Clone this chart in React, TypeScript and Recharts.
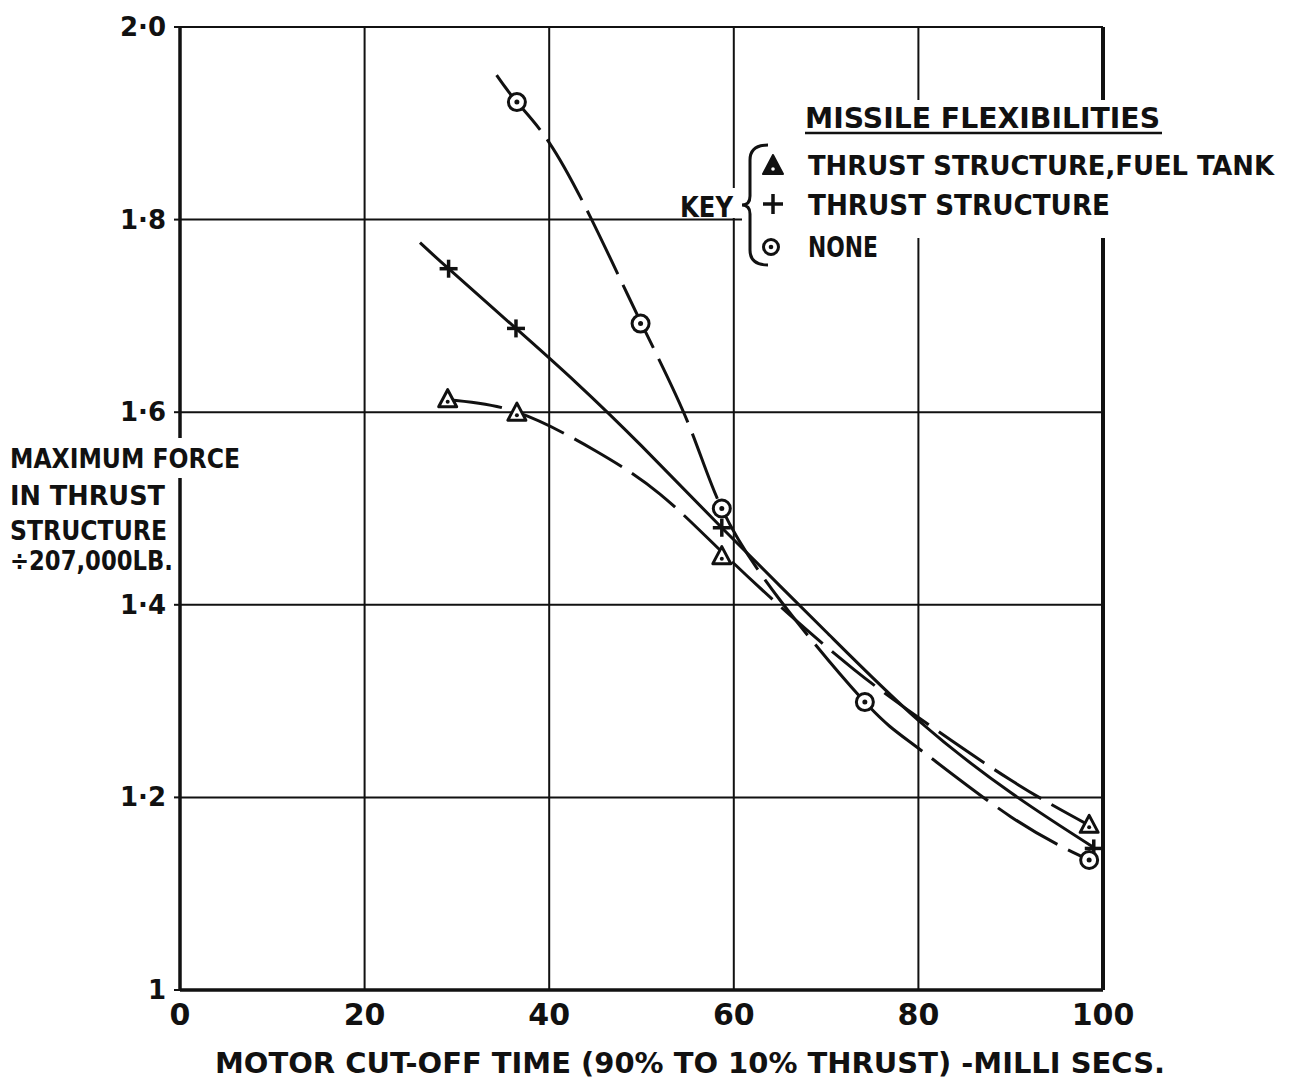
import React from 'react';
import {
  ComposedChart,
  Line,
  Scatter,
  XAxis,
  YAxis,
  CartesianGrid,
  ReferenceLine,
} from 'recharts';

// values
const xTicks = [0, 20, 40, 60, 80, 100];
const yTicks = [1, 1.2, 1.4, 1.6, 1.8, 2];

// plotted points (markers)
const triangleX = [29, 36.5, 58.7, 98.5];
const triangleY = [1.613, 1.599, 1.45, 1.171];
const plusX = [29.1, 36.4, 58.7, 99];
const plusY = [1.749, 1.687, 1.48, 1.147];
const circleX = [36.5, 49.9, 58.7, 74.2, 98.5];
const circleY = [1.922, 1.692, 1.5, 1.299, 1.135];

// faired curves traced through the points
const triangleCurveX = [29, 36.5, 45, 52, 58.7, 66, 73, 80, 90, 98.5];
const triangleCurveY = [1.613, 1.6, 1.56, 1.515, 1.455, 1.39, 1.333, 1.283, 1.218, 1.171];
const plusCurveX = [26, 29.1, 36.4, 43, 50, 58.7, 70, 80, 90, 99];
const plusCurveY = [1.776, 1.749, 1.687, 1.63, 1.565, 1.48, 1.372, 1.28, 1.205, 1.148];
const circleCurveX = [34.3, 36.5, 40, 44.6, 50, 55, 58.7, 65, 74.2, 80, 90, 98.5];
const circleCurveY = [1.95, 1.922, 1.88, 1.8, 1.692, 1.59, 1.5, 1.405, 1.299, 1.251, 1.18, 1.135];

const zip = (xs: number[], ys: number[]) => xs.map((x, i) => ({ x, y: ys[i] }));

const FONT = '"DejaVu Sans", sans-serif';
const NARROW = '"DejaVu Sans Condensed", "DejaVu Sans", sans-serif';
const INK = '#111';

const YTick = ({ x, y, payload }: any) => {
  const v = payload.value as number;
  const label = v === 1 ? '1' : v.toFixed(1).replace('.', '\u00b7');
  return (
    <text x={x} y={y} dy={9} textAnchor="end" fontFamily={FONT} fontWeight="bold" fontSize={26} fill={INK}>
      {label}
    </text>
  );
};

const XTick = ({ x, y, payload }: any) => (
  <text x={x} y={y} dy={35} textAnchor="middle" fontFamily={FONT} fontWeight="bold" fontSize={30} fill={INK}>
    {payload.value}
  </text>
);

const TriangleMark = ({ cx, cy }: any) => (
  <g>
    <polygon
      points={`${cx},${cy - 10} ${cx - 9},${cy + 7} ${cx + 9},${cy + 7}`}
      fill="#fff"
      stroke={INK}
      strokeWidth={3}
      strokeLinejoin="round"
    />
    <circle cx={cx} cy={cy + 2} r={2} fill={INK} />
  </g>
);

const PlusMark = ({ cx, cy }: any) => (
  <g stroke={INK} strokeWidth={3.5}>
    <line x1={cx - 9} y1={cy} x2={cx + 9} y2={cy} />
    <line x1={cx} y1={cy - 9} x2={cx} y2={cy + 9} />
  </g>
);

const CircleMark = ({ cx, cy }: any) => (
  <g>
    <circle cx={cx} cy={cy} r={8.5} fill="#fff" stroke={INK} strokeWidth={3} />
    <circle cx={cx} cy={cy} r={2.5} fill={INK} />
  </g>
);

const W = 1289;
const H = 1076;

export default function App() {
  const textProps = { fontFamily: FONT, fontWeight: 'bold' as const, fill: INK, lengthAdjust: 'spacingAndGlyphs' as const };
  return (
    <div style={{ position: 'relative', width: W, height: H, background: '#fff' }}>
      <ComposedChart width={W} height={H} margin={{ top: 19, right: 194, bottom: 54, left: 112 }}>
        <CartesianGrid stroke={INK} strokeWidth={2} horizontalValues={yTicks} verticalValues={xTicks} />
        <XAxis
          type="number"
          dataKey="x"
          domain={[0, 100]}
          ticks={xTicks}
          tick={<XTick />}
          tickLine={false}
          tickSize={0}
          tickMargin={0}
          height={40}
          axisLine={{ stroke: INK, strokeWidth: 3.5 }}
          allowDataOverflow
        />
        <YAxis
          type="number"
          domain={[1, 2]}
          ticks={yTicks}
          tick={<YTick />}
          tickLine={{ stroke: INK, strokeWidth: 2 }}
          tickSize={6}
          tickMargin={8}
          width={60}
          axisLine={{ stroke: INK, strokeWidth: 3.5 }}
          allowDataOverflow
        />
        <ReferenceLine x={100} stroke={INK} strokeWidth={4} />
        <Line
          data={zip(triangleCurveX, triangleCurveY)}
          dataKey="y"
          type="natural"
          stroke={INK}
          strokeWidth={3}
          strokeDasharray="55 12"
          dot={false}
          activeDot={false}
          isAnimationActive={false}
        />
        <Line
          data={zip(plusCurveX, plusCurveY)}
          dataKey="y"
          type="natural"
          stroke={INK}
          strokeWidth={3}
          dot={false}
          activeDot={false}
          isAnimationActive={false}
        />
        <Line
          data={zip(circleCurveX, circleCurveY)}
          dataKey="y"
          type="natural"
          stroke={INK}
          strokeWidth={3}
          strokeDasharray="70 12"
          dot={false}
          activeDot={false}
          isAnimationActive={false}
        />
        <Scatter data={zip(triangleX, triangleY)} dataKey="y" shape={<TriangleMark />} isAnimationActive={false} />
        <Scatter data={zip(plusX, plusY)} dataKey="y" shape={<PlusMark />} isAnimationActive={false} />
        <Scatter data={zip(circleX, circleY)} dataKey="y" shape={<CircleMark />} isAnimationActive={false} />
      </ComposedChart>

      <svg width={W} height={H} style={{ position: 'absolute', left: 0, top: 0, pointerEvents: 'none' }}>
        {/* key block, masking the grid behind it */}
        <rect x={734} y={92} width={438} height={138} fill="#fff" />
        <rect x={680} y={180} width={54} height={30} fill="#fff" />
        <text x={797} y={120} fontSize={28} textLength={355} {...textProps}>MISSILE FLEXIBILITIES</text>
        <line x1={797} y1={125} x2={1154} y2={125} stroke={INK} strokeWidth={2.5} />
        <text x={800} y={167} fontSize={27} textLength={466} {...textProps} fontFamily={NARROW}>
          THRUST STRUCTURE,FUEL TANK
        </text>
        <text x={800} y={207} fontSize={28} textLength={302} {...textProps}>THRUST STRUCTURE</text>
        <text x={800} y={249} fontSize={28} textLength={70} {...textProps}>NONE</text>
        <text x={672} y={209} fontSize={28} textLength={53} {...textProps}>KEY</text>
        <path
          d="M 760 137 Q 742 137 742 152 L 742 188 Q 742 197 734 197 Q 742 197 742 206 L 742 242 Q 742 257 760 257"
          fill="none"
          stroke={INK}
          strokeWidth={3}
        />
        <polygon points="765,147 755,166 775,166" fill={INK} stroke={INK} strokeWidth={2} strokeLinejoin="round" />
        <circle cx={765} cy={161} r={1.8} fill="#fff" />
        <g stroke={INK} strokeWidth={3.5}>
          <line x1={755} y1={196} x2={775} y2={196} />
          <line x1={765} y1={186} x2={765} y2={206} />
        </g>
        <circle cx={763} cy={239} r={7.5} fill="none" stroke={INK} strokeWidth={3} />
        <circle cx={763} cy={239} r={2.3} fill={INK} />

        {/* y-axis title */}
        <rect x={164} y={430} width={76} height={40} fill="#fff" />
        <text x={2} y={460} fontSize={27} textLength={230} {...textProps}>MAXIMUM FORCE</text>
        <text x={2} y={497} fontSize={27} textLength={155} {...textProps}>IN THRUST</text>
        <text x={2} y={532} fontSize={27} textLength={157} {...textProps}>STRUCTURE</text>
        <text x={2} y={562} fontSize={27} textLength={163} {...textProps}>÷207,000LB.</text>

        {/* x-axis title */}
        <text x={207} y={1065} fontSize={28} textLength={950} {...textProps}>
          MOTOR CUT-OFF TIME (90% TO 10% THRUST) -MILLI SECS.
        </text>
      </svg>
    </div>
  );
}
